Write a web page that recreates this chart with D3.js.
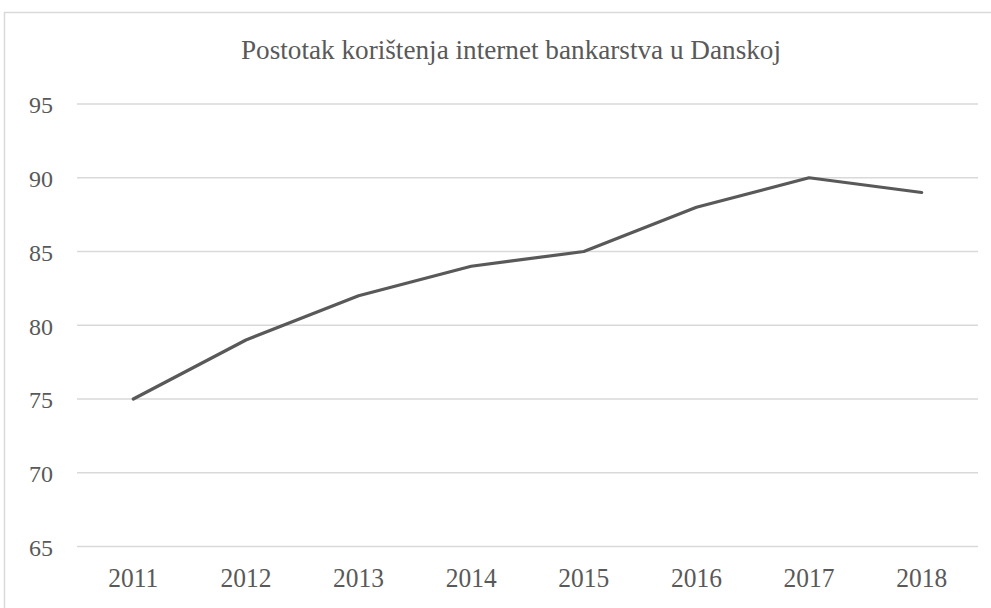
<!DOCTYPE html>
<html>
<head>
<meta charset="utf-8">
<script src="https://cdn.jsdelivr.net/npm/d3@7"></script>
</head>
<body style="margin:0;background:#fff">
<svg id="chart" width="991" height="608" style="display:block"></svg>
<script>
const title = "Postotak korištenja internet bankarstva u Danskoj";
const years = ["2011", "2012", "2013", "2014", "2015", "2016", "2017", "2018"];
const values = [75, 79, 82, 84, 85, 88, 90, 89];
const yTicks = [65, 70, 75, 80, 85, 90, 95];

const FONT = "Liberation Serif";
const svg = d3.select("#chart");
const W = 991, H = 608;
const plot = { left: 77, right: 978, top: 104, bottom: 546.5 };

svg.append("rect").attr("x", 0).attr("y", 0).attr("width", W).attr("height", H).attr("fill", "#fff");
// chart frame (cropped at right/bottom)
svg.append("rect")
  .attr("x", 4.5).attr("y", 12.5).attr("width", 1100).attr("height", 800)
  .attr("fill", "none").attr("stroke", "#d9d9d9").attr("stroke-width", 1.5);

const x = d3.scaleBand().domain(years).range([plot.left, plot.right]);
const y = d3.scaleLinear().domain([65, 95]).range([plot.bottom, plot.top]);

// gridlines
svg.append("g").selectAll("line").data(yTicks).join("line")
  .attr("x1", plot.left).attr("x2", plot.right)
  .attr("y1", d => y(d)).attr("y2", d => y(d))
  .attr("stroke", "#d9d9d9").attr("stroke-width", 1.5);

// y labels
const yAxis = d3.axisLeft(y).tickValues(yTicks).tickSize(0).tickPadding(0);
const gy = svg.append("g").attr("transform", "translate(53,0)").call(yAxis);
gy.attr("font-family", FONT);
gy.select(".domain").remove();
gy.selectAll("text")
  .attr("font-family", FONT).attr("font-size", 24).attr("fill", "#595959")
  .attr("x", 0).attr("dy", "0.37em");

// x labels
const xAxis = d3.axisBottom(x).tickSize(0).tickPadding(0);
const gx = svg.append("g").attr("transform", "translate(0,587)").call(xAxis);
gx.attr("font-family", FONT);
gx.select(".domain").remove();
gx.selectAll("text")
  .attr("font-family", FONT).attr("font-size", 28).attr("fill", "#595959")
  .attr("y", 0).attr("dy", 0)
  .attr("transform", "scale(0.91,1)");

// line
const line = d3.line().x((d, i) => x(years[i]) + x.bandwidth() / 2).y(d => y(d));
svg.append("path").datum(values)
  .attr("d", line).attr("fill", "none")
  .attr("stroke", "#595959").attr("stroke-width", 3.2)
  .attr("stroke-linejoin", "round").attr("stroke-linecap", "round");

// title
svg.append("text").attr("x", 511).attr("y", 59)
  .attr("text-anchor", "middle")
  .attr("font-family", FONT).attr("font-size", 27).attr("fill", "#595959")
  .attr("textLength", 540).attr("lengthAdjust", "spacingAndGlyphs")
  .text(title);
</script>
</body>
</html>
